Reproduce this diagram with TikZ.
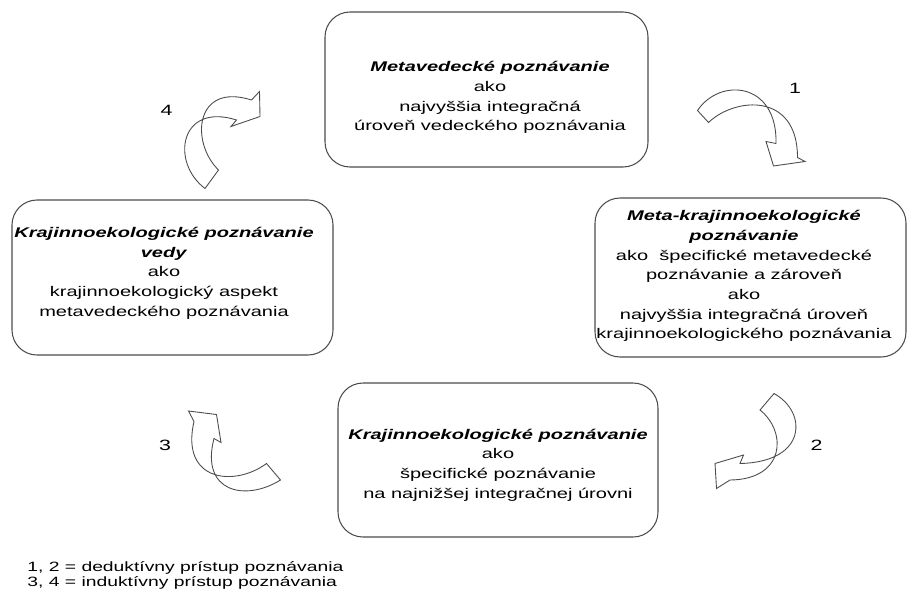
\documentclass[tikz,border=0pt]{standalone}
\usepackage{fontspec}
\setmainfont{Liberation Sans}[FakeStretch=1.43]

\newcommand{\nadpis}[1]{\textbf{\textit{#1}}}

\begin{document}
\begin{tikzpicture}[
  ramec/.style={draw=black!70, line width=0.6pt, rounded corners=0.5cm, inner sep=0pt},
  popis/.style={align=center, inner sep=0pt, text=black, font=\fontsize{7.97}{11.2}\selectfont},
  obluk/.style={draw=black!70, line width=0.5pt, fill=white},
  cislo/.style={text=black, font=\fontsize{8.5}{10}\selectfont}
]
\useasboundingbox (0,0) rectangle (18.14,12.14);

% the four boxes
\node[ramec, minimum width=6.46cm, minimum height=3.10cm] (meta) at (9.73,10.35) {};
\node[ramec, minimum width=6.22cm, minimum height=3.18cm] (metakraj) at (15.01,6.59) {};
\node[ramec, minimum width=6.40cm, minimum height=3.08cm] (kraj) at (9.96,2.94) {};
\node[ramec, minimum width=6.42cm, minimum height=3.10cm] (krajveda) at (3.45,6.59) {};

% their texts
\node[popis] (metaT) at ([xshift=0.07cm,yshift=-0.16cm]meta.center) {\nadpis{Metavedecké poznávanie}\\ako\\najvyššia integračná\\úroveň vedeckého poznávania};
\node[popis] (metakrajT) at ([xshift=-0.13cm,yshift=0.03cm]metakraj.center) {\nadpis{Meta-krajinnoekologické}\\\nadpis{poznávanie}\\ako~ špecifické metavedecké\\poznávanie a zároveň\\ako\\najvyššia integračná úroveň\\krajinnoekologického poznávania};
\node[popis] (krajT) at ([yshift=-0.10cm]kraj.center) {\nadpis{Krajinnoekologické poznávanie}\\ako\\špecifické poznávanie\\na najnižšej integračnej úrovni};
\node[popis] (krajvedaT) at ([xshift=-0.17cm,yshift=0.09cm]krajveda.center) {\nadpis{Krajinnoekologické poznávanie}\\\nadpis{vedy}\\ako\\krajinnoekologický aspekt\\metavedeckého poznávania};

% curved arrows
\draw[obluk] (13.95,9.93) .. controls (14.4,10.6) and (15.55,10.5) .. (15.52,9.27) -- (15.32,9.31) -- (15.47,8.82) -- (16.10,8.91) -- (15.95,8.99) .. controls (15.95,10.3) and (14.7,10.2) .. (14.17,9.69) -- cycle;
\draw[obluk] (15.48,4.27) .. controls (16.15,3.9) and (16.15,2.9) .. (14.80,2.87) -- (14.87,3.04) -- (14.30,2.87) -- (14.33,2.37) -- (14.60,2.54) .. controls (15.7,2.55) and (15.75,3.5) .. (15.20,3.94) -- cycle;
\draw[obluk] (5.61,2.54) .. controls (4.9,2.1) and (4.0,2.3) .. (4.28,3.37) -- (4.42,3.29) -- (4.33,3.85) -- (3.77,3.92) -- (3.88,3.71) .. controls (3.6,2.5) and (4.7,2.4) .. (5.33,2.87) -- cycle;
\draw[obluk] (4.10,8.37) .. controls (3.4,8.9) and (3.6,10.1) .. (4.73,9.74) -- (4.62,9.61) -- (5.20,9.81) -- (5.19,10.31) -- (5.03,10.14) .. controls (3.9,10.5) and (3.8,9.3) .. (4.37,8.74) -- cycle;

\node[cislo] (c1) at (15.90,10.38) {1};
\node[cislo] (c2) at (16.33,3.24) {2};
\node[cislo] (c3) at (3.30,3.24) {3};
\node[cislo] (c4) at (3.33,9.94) {4};

% legend
\node[anchor=west, inner sep=0pt, align=left, text=black, font=\fontsize{7.68}{8.25}\selectfont] (legenda) at (0.54,0.635) {1, 2 = deduktívny prístup poznávania\\3, 4 = induktívny prístup poznávania};

\end{tikzpicture}
\end{document}
